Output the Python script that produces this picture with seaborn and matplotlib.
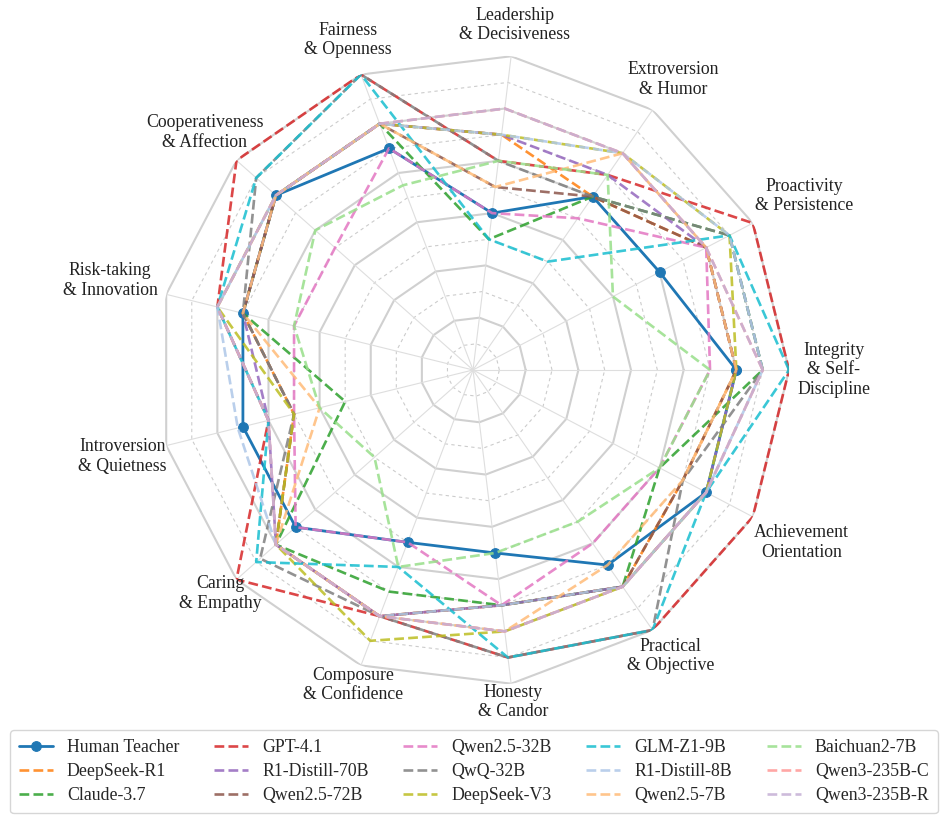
import numpy as np
import pandas as pd
import matplotlib
matplotlib.use('Agg')
import matplotlib.pyplot as plt
import seaborn as sns

# dimensions, counter-clockwise starting at 3 o'clock
dims = ['Integrity\n& Self-\nDiscipline', 'Proactivity\n& Persistence', 'Extroversion\n& Humor',
        'Leadership\n& Decisiveness', 'Fairness\n& Openness', 'Cooperativeness\n& Affection',
        'Risk-taking\n& Innovation', 'Introversion\n& Quietness', 'Caring\n& Empathy',
        'Composure\n& Confidence', 'Honesty\n& Candor', 'Practical\n& Objective',
        'Achievement\nOrientation']

models = ['Human Teacher', 'DeepSeek-R1', 'Claude-3.7', 'GPT-4.1', 'R1-Distill-70B',
          'Qwen2.5-72B', 'Qwen2.5-32B', 'QwQ-32B', 'DeepSeek-V3', 'GLM-Z1-9B',
          'R1-Distill-8B', 'Qwen2.5-7B', 'Baichuan2-7B', 'Qwen3-235B-C', 'Qwen3-235B-R']

# scores per dimension (same order as dims)
human_teacher  = [10, 8, 8, 6, 9, 10, 9, 9, 9, 7, 7, 9, 10]
deepseek_r1    = [10, 10, 8, 9, 10, 10, 9, 7, 10, 10, 9, 10, 9]
claude_37      = [11, 11, 8, 5, 10, 10, 9, 5, 10, 9, 9, 10, 8]
gpt_41         = [12, 12, 9, 8, 12, 12, 10, 8, 12, 10, 11, 12, 12]
r1_distill_70b = [10, 10, 9, 9, 10, 10, 9, 8, 10, 10, 9, 10, 10]
qwen25_72b     = [10, 10, 8, 7, 10, 10, 9, 7, 10, 10, 9, 10, 9]
qwen25_32b     = [9, 10, 7, 6, 9, 7, 7, 7, 9, 7, 9, 8, 8]
qwq_32b        = [11, 11, 8, 8, 12, 11, 9, 7, 10.8, 10, 11, 12, 9]
deepseek_v3    = [10, 11, 10, 9, 10, 10, 10, 7, 10, 11, 10, 10, 10]
glm_z1_9b      = [12, 11, 5, 5, 12, 11, 10, 8, 11, 8, 11, 12, 10]
r1_distill_8b  = [11, 11, 10, 9, 10, 10, 10, 9.2, 10, 10, 9, 10, 10]
qwen25_7b      = [10, 10, 10, 7, 10, 10, 9, 6, 10, 10, 10, 9, 9]
baichuan2_7b   = [9, 6, 9, 8, 7.5, 8, 7, 6, 5, 8, 7, 7, 8]
qwen3_235b_c   = [11, 10, 10, 10, 10, 10, 10, 8, 10, 10, 10, 10, 10]
qwen3_235b_r   = [11, 10, 10, 10, 10, 10, 10, 8, 10, 10, 10, 10, 10]

scores = [human_teacher, deepseek_r1, claude_37, gpt_41, r1_distill_70b, qwen25_72b,
          qwen25_32b, qwq_32b, deepseek_v3, glm_z1_9b, r1_distill_8b, qwen25_7b,
          baichuan2_7b, qwen3_235b_c, qwen3_235b_r]

n = len(dims)
angles = np.linspace(0, 2 * np.pi, n, endpoint=False)
closed = np.append(angles, angles[0])

rows = []
for m, s in zip(models, scores):
    for a, v in zip(closed, s + s[:1]):
        rows.append({'model': m, 'theta': a, 'score': v})
df = pd.DataFrame(rows)

tab10 = sns.color_palette('tab10')
tab20 = sns.color_palette('tab20')
colors = list(tab10) + [tab20[1], tab20[3], tab20[5], tab20[7], tab20[9]]

sns.set_style('white')
plt.rcParams['font.family'] = ['Liberation Serif', 'DejaVu Serif']

fig = plt.figure(figsize=(9.47, 8.24), dpi=100)
ax = fig.add_axes([0.1658, 0.1675, 0.6674, 0.767], projection='polar')
rmax = 12

# polygon grid: solid every 2 units, dashed in between
for k in range(1, rmax + 1):
    if k % 2 == 0:
        ax.plot(closed, [k] * (n + 1), color='#d0d0d0', lw=1.5, zorder=0)
    else:
        ax.plot(closed, [k] * (n + 1), color='#cccccc', lw=0.8, ls=(0, (3, 3)), zorder=0)
for a in angles:
    ax.plot([a, a], [0, rmax], color='#dedede', lw=0.8, zorder=0)

for m, c in zip(models, colors):
    sub = df[df['model'] == m]
    if m == 'Human Teacher':
        sns.lineplot(data=sub, x='theta', y='score', sort=False, estimator=None, ax=ax,
                     color=c, lw=2, marker='o', markersize=7, markeredgecolor=c,
                     label=m)
    else:
        sns.lineplot(data=sub, x='theta', y='score', sort=False, estimator=None, ax=ax,
                     color=c, lw=1.9, linestyle='--', alpha=0.85, label=m)

label_r = [13.7, 14.2, 13.4, 13.2, 13.4, 13.6, 14.2, 13.7, 12.8, 12.8, 12.7, 13.2, 14.1]
for a, lab, rr in zip(angles, dims, label_r):
    ax.text(a, rr, lab, ha='center', va='center', fontsize=12.8, color='#222222')

ax.set_ylim(0, rmax)
ax.set_xticks([])
ax.set_yticks([])
ax.grid(False)
ax.spines['polar'].set_visible(False)
ax.set_xlabel('')
ax.set_ylabel('')

handles, labels = ax.get_legend_handles_labels()
if ax.get_legend() is not None:
    ax.get_legend().remove()
fig.legend(handles, labels, loc='lower center', ncol=5,
           bbox_to_anchor=(0.0106, 0.013, 0.9794, 0.11), mode='expand',
           fontsize=12.8, frameon=True, edgecolor='#cccccc', fancybox=True,
           handlelength=1.9, handletextpad=0.8, labelspacing=0.4,
           borderpad=0.5, borderaxespad=0)

fig.savefig('out.png', dpi=100)
